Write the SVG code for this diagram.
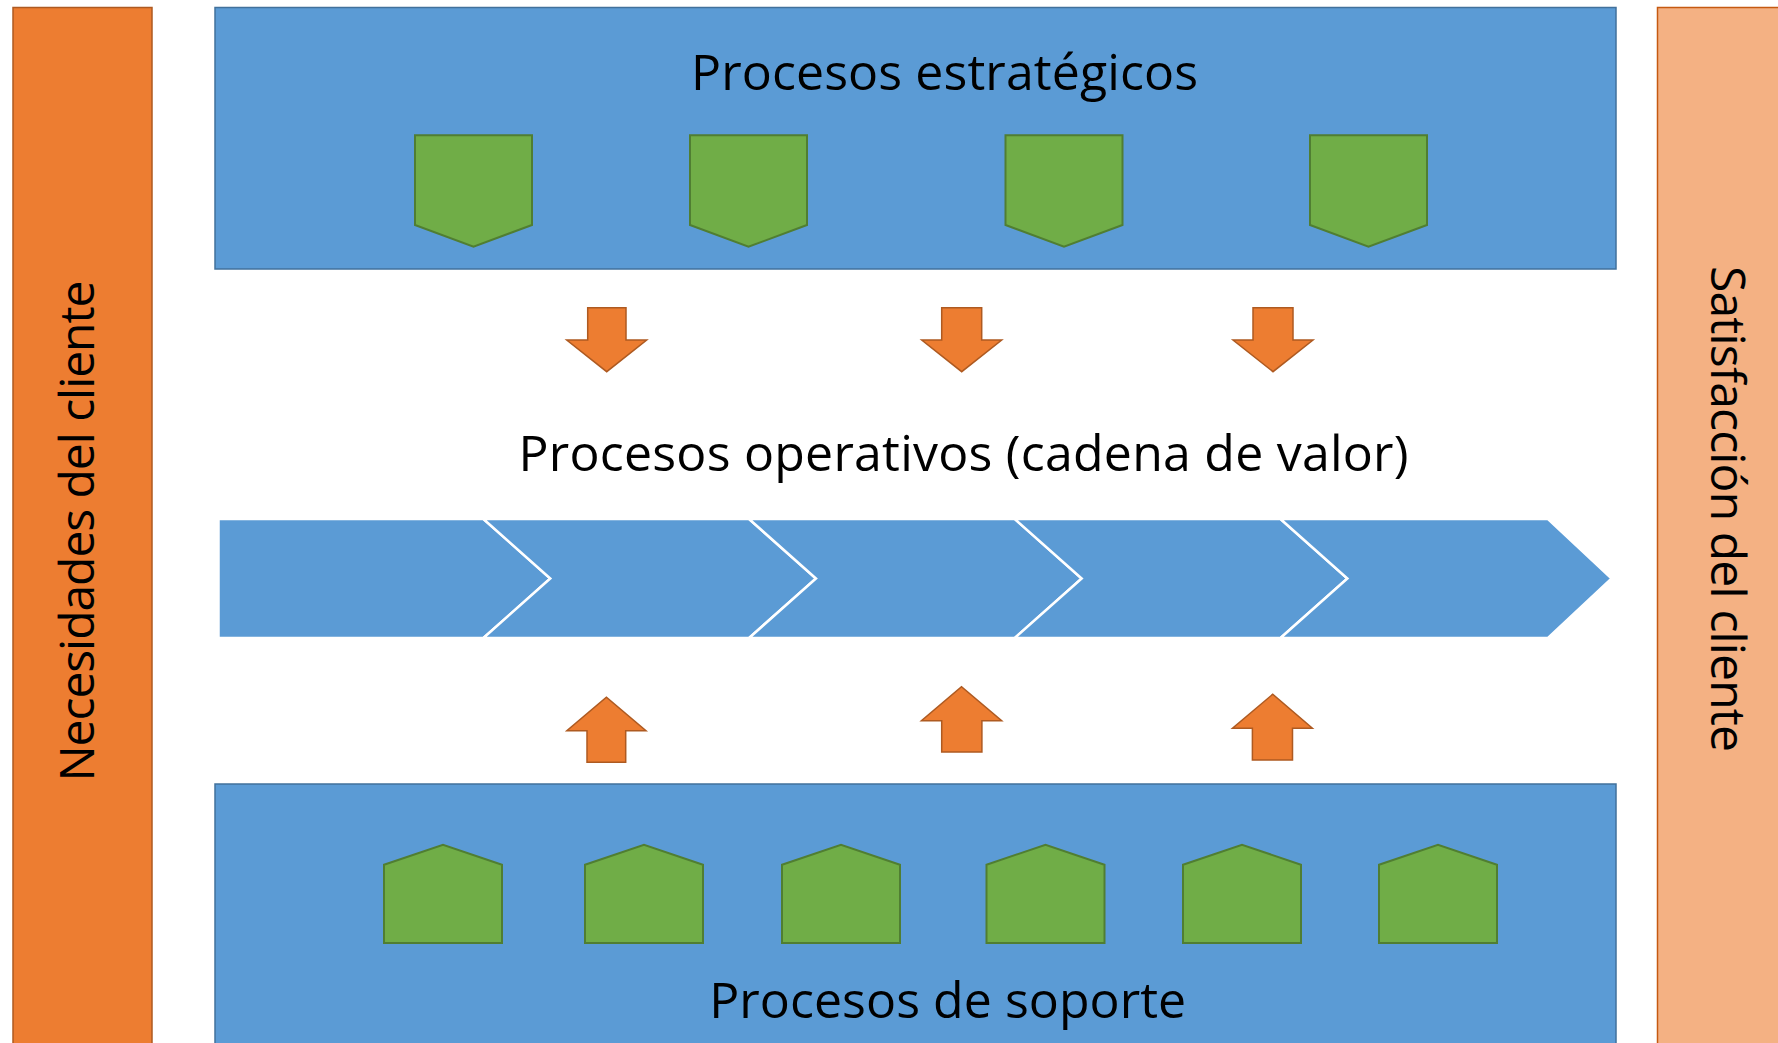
<svg xmlns="http://www.w3.org/2000/svg" width="1778" height="1043" viewBox="0 0 1778 1043">
  <style>
    .blue { fill: #5B9BD5; stroke: #41719C; stroke-width: 1.5; }
    .chev { fill: #5B9BD5; stroke: #FFFFFF; stroke-width: 2.5; stroke-linejoin: miter; }
    .green { fill: #70AD47; stroke: #507E32; stroke-width: 2; stroke-linejoin: miter; }
    .arrow { fill: #ED7D31; stroke: #AE5A21; stroke-width: 1.5; stroke-linejoin: miter; }
    .orange { fill: #ED7D31; stroke: #AE5A21; stroke-width: 1.5; }
    .peach { fill: #F4B183; stroke: #C55A11; stroke-width: 1.5; }
    .lbl { font-family: "Open Sans", "DejaVu Sans", sans-serif; font-size: 50px; fill: #000000; }
    .vlbl { font-family: "Open Sans", "DejaVu Sans", sans-serif; font-size: 48px; fill: #000000; }
  </style>
  <defs>
    <polygon id="penDown" points="0,0 117,0 117,89.7 58.5,111.4 0,89.7"/>
    <polygon id="penUp" points="0,20 59,0 118,20 118,98.3 0,98.3"/>
  </defs>

  <g id="necesidades">
    <rect class="orange" x="13" y="7.5" width="139" height="1050"/>
    <text class="vlbl" transform="translate(93.5,531) rotate(-90)" text-anchor="middle" textLength="501" lengthAdjust="spacing">Necesidades del cliente</text>
  </g>

  <g id="satisfaccion">
    <rect class="peach" x="1657.5" y="7.5" width="140" height="1050"/>
    <text class="vlbl" transform="translate(1710.5,509) rotate(90)" text-anchor="middle" textLength="486" lengthAdjust="spacing">Satisfacción del cliente</text>
  </g>

  <g id="estrategicos">
    <rect class="blue" x="215" y="7.5" width="1401" height="261.5"/>
    <text class="lbl" x="944.5" y="90" text-anchor="middle" textLength="507" lengthAdjust="spacing">Procesos estratégicos</text>
    <use href="#penDown" class="green" x="415" y="135.3"/>
    <use href="#penDown" class="green" x="690" y="135.3"/>
    <use href="#penDown" class="green" x="1005.5" y="135.3"/>
    <use href="#penDown" class="green" x="1310" y="135.3"/>
  </g>

  <g id="operativos">
    <text class="lbl" x="963.5" y="471" text-anchor="middle" textLength="890" lengthAdjust="spacing">Procesos operativos (cadena de valor)</text>
    <polygon class="chev" points="218.5,519 483.4,519 550.3,578.5 483.4,638 218.5,638"/>
    <polygon class="chev" points="483.4,519 749.1,519 816,578.5 749.1,638 483.4,638 550.3,578.5"/>
    <polygon class="chev" points="749.1,519 1014.8,519 1081.7,578.5 1014.8,638 749.1,638 816,578.5"/>
    <polygon class="chev" points="1014.8,519 1280.5,519 1347.4,578.5 1280.5,638 1014.8,638 1081.7,578.5"/>
    <polygon class="chev" points="1280.5,519 1548,519 1611.6,578.5 1548,638 1280.5,638 1347.4,578.5"/>
  </g>

  <g id="soporte">
    <rect class="blue" x="215" y="784" width="1401" height="280"/>
    <use href="#penUp" class="green" x="384" y="844.7"/>
    <use href="#penUp" class="green" x="585" y="844.7"/>
    <use href="#penUp" class="green" x="782" y="844.7"/>
    <use href="#penUp" class="green" x="986.5" y="844.7"/>
    <use href="#penUp" class="green" x="1183" y="844.7"/>
    <use href="#penUp" class="green" x="1379" y="844.7"/>
    <text class="lbl" x="947.7" y="1018" text-anchor="middle" textLength="477" lengthAdjust="spacing">Procesos de soporte</text>
  </g>

  <g id="connectors">
    <polygon class="arrow" points="587.7,307.7 626,307.7 626,340 646.7,340 606.7,371.7 566.7,340 587.7,340"/>
    <polygon class="arrow" points="941.7,307.7 981.7,307.7 981.7,340 1001.7,340 961.7,371.7 921.7,340 941.7,340"/>
    <polygon class="arrow" points="1253,307.7 1293,307.7 1293,340 1313,340 1273,371.7 1233,340 1253,340"/>
    <polygon class="arrow" points="587,762.3 625.7,762.3 625.7,730.7 646,730.7 606.4,697.3 566.8,730.7 587,730.7"/>
    <polygon class="arrow" points="941.7,752 981.9,752 981.9,720.7 1001.7,720.7 961.5,686.7 921.4,720.7 941.7,720.7"/>
    <polygon class="arrow" points="1252.4,760 1292.5,760 1292.5,728.3 1312.4,728.3 1272.7,694.3 1232.5,728.3 1252.4,728.3"/>
  </g>
</svg>
